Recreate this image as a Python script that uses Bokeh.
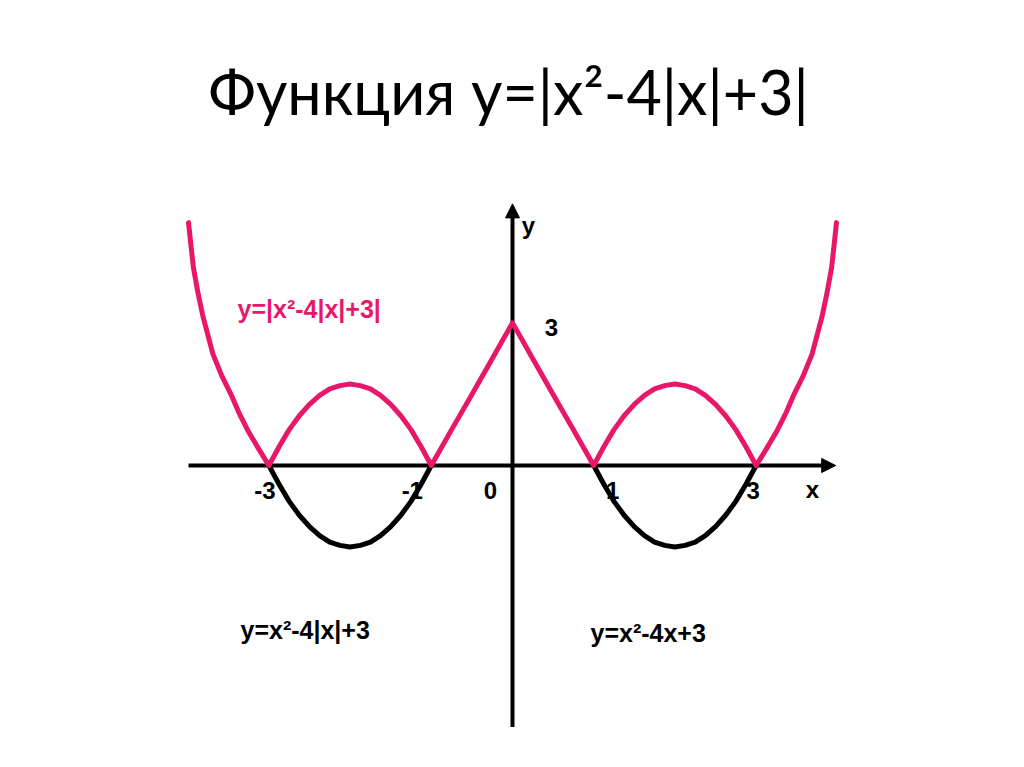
from bokeh.plotting import figure
from bokeh.models import Arrow, NormalHead, Label, Range1d
from bokeh.embed import file_html
from bokeh.resources import INLINE

# ---- data (units: picture's own x / y scale) ----
pink_x = [-3.99, -3.96, -3.93, -3.87, -3.81, -3.69, -3.58, -3.47, -3.37, -3.26, -3.13, -3.0,
          -2.875, -2.75, -2.625, -2.5, -2.375, -2.25, -2.125, -2.0,
          -1.875, -1.75, -1.625, -1.5, -1.375, -1.25, -1.125, -1.0,
          -0.75, -0.5, -0.25, 0.0,
          0.25, 0.5, 0.75, 1.0,
          1.125, 1.25, 1.375, 1.5, 1.625, 1.75, 1.875, 2.0,
          2.125, 2.25, 2.375, 2.5, 2.625, 2.75, 2.875, 3.0,
          3.13, 3.26, 3.37, 3.47, 3.58, 3.69, 3.81, 3.87, 3.93, 3.96, 3.99]
pink_y = [2.98, 2.70, 2.43, 2.10, 1.82, 1.37, 1.10, 0.88, 0.65, 0.43, 0.21, 0.0,
          0.23, 0.44, 0.61, 0.75, 0.86, 0.94, 0.98, 1.0,
          0.98, 0.94, 0.86, 0.75, 0.61, 0.44, 0.23, 0.0,
          0.44, 0.87, 1.31, 1.75,
          1.31, 0.87, 0.44, 0.0,
          0.23, 0.44, 0.61, 0.75, 0.86, 0.94, 0.98, 1.0,
          0.98, 0.94, 0.86, 0.75, 0.61, 0.44, 0.23, 0.0,
          0.21, 0.43, 0.65, 0.88, 1.10, 1.37, 1.82, 2.10, 2.43, 2.70, 2.98]

black_left_x = [-3.0, -2.875, -2.75, -2.625, -2.5, -2.375, -2.25, -2.125, -2.0,
                -1.875, -1.75, -1.625, -1.5, -1.375, -1.25, -1.125, -1.0]
black_left_y = [0.0, -0.23, -0.44, -0.61, -0.75, -0.86, -0.94, -0.98, -1.0,
                -0.98, -0.94, -0.86, -0.75, -0.61, -0.44, -0.23, 0.0]
black_right_x = [1.0, 1.125, 1.25, 1.375, 1.5, 1.625, 1.75, 1.875, 2.0,
                 2.125, 2.25, 2.375, 2.5, 2.625, 2.75, 2.875, 3.0]
black_right_y = [0.0, -0.23, -0.44, -0.61, -0.75, -0.86, -0.94, -0.98, -1.0,
                 -0.98, -0.94, -0.86, -0.75, -0.61, -0.44, -0.23, 0.0]

tick_values = [-3, -1, 0, 1, 3]
tick_labels = ["-3", "-1", "0", "1", "3"]

title_text = "Функция y=|x²-4|x|+3|"
pink_label = "y=|x²-4|x|+3|"
left_label = "y=x²-4|x|+3"
right_label = "y=x²-4x+3"

PINK = "#E8176A"
W, H = 1008, 751
UX, UY = 81.2, 81.5          # px per unit
X0, Y0 = 512, 465            # origin in frame px (from left / top)

p = figure(width=W, height=H, output_backend="svg", toolbar_location=None,
           x_range=Range1d(-X0 / UX, (W - X0) / UX),
           y_range=Range1d(-(H - Y0) / UY, Y0 / UY),
           min_border=0, min_border_left=0, min_border_right=0,
           min_border_top=0, min_border_bottom=0)
p.axis.visible = False
p.grid.visible = False
p.outline_line_color = None
p.background_fill_color = "white"
p.border_fill_color = "white"

# axes with arrow heads
ax_x = Arrow(x_start=-3.99, y_start=0, x_end=3.98, y_end=0, line_width=4, line_color="black",
             end=NormalHead(size=14, fill_color="black", line_color="black"), level="underlay")
ax_y = Arrow(x_start=0, y_start=-3.21, x_end=0, y_end=3.21, line_width=4, line_color="black",
             end=NormalHead(size=14, fill_color="black", line_color="black"), level="underlay")
p.add_layout(ax_x)
p.add_layout(ax_y)

FONT = "Liberation Sans"
FS = "24px"

# tick labels (drawn under curves)
tick_offsets = [-4, -19, -22, 19, -3]
for v, t, dx in zip(tick_values, tick_labels, tick_offsets):
    p.add_layout(Label(x=v, y=0, text=t, x_offset=dx, y_offset=-25, text_align="center",
                       text_baseline="middle", text_font=FONT, text_font_size=FS,
                       text_font_style="bold", text_color="black", level="underlay"))

p.add_layout(Label(x=0, y=0, text="x", x_offset=300, y_offset=-24, text_align="center",
                   text_baseline="middle", text_font=FONT, text_font_size=FS,
                   text_font_style="bold", text_color="black", level="underlay"))
p.add_layout(Label(x=0, y=0, text="y", x_offset=16, y_offset=240, text_align="center",
                   text_baseline="middle", text_font=FONT, text_font_size=FS,
                   text_font_style="bold", text_color="black", level="underlay"))
p.add_layout(Label(x=0, y=0, text="3", x_offset=39, y_offset=138, text_align="center",
                   text_baseline="middle", text_font=FONT, text_font_size=FS,
                   text_font_style="bold", text_color="black", level="underlay"))

# curves
p.line(black_left_x, black_left_y, line_color="black", line_width=5, line_cap="round", line_join="round")
p.line(black_right_x, black_right_y, line_color="black", line_width=5, line_cap="round", line_join="round")
p.line(pink_x, pink_y, line_color=PINK, line_width=5, line_cap="round", line_join="round")

# curve labels
p.add_layout(Label(x=0, y=0, x_offset=237 - 512, y_offset=465 - 308, text=pink_label,
                   text_align="left", text_baseline="middle", text_font=FONT,
                   text_font_size="25px", text_font_style="bold", text_color=PINK))
p.add_layout(Label(x=0, y=0, x_offset=240 - 512, y_offset=465 - 629, text=left_label,
                   text_align="left", text_baseline="middle", text_font=FONT,
                   text_font_size="25px", text_font_style="bold", text_color="black"))
p.add_layout(Label(x=0, y=0, x_offset=590 - 512, y_offset=465 - 632, text=right_label,
                   text_align="left", text_baseline="middle", text_font=FONT,
                   text_font_size="25px", text_font_style="bold", text_color="black"))

# title
p.add_layout(Label(x=508, y=H - 91, x_units="screen", y_units="screen", text=title_text,
                   text_align="center", text_baseline="middle", text_font="Lato",
                   text_font_size="61px", text_color="black"))

open("out.html", "w").write(file_html(p, INLINE))
